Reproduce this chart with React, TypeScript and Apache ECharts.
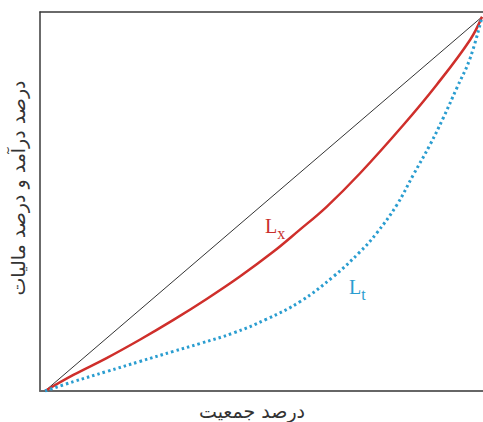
import React, { useEffect, useRef } from "react";
import * as echarts from "echarts";

// Lorenz-style curves (percent of population vs percent of income / tax)
const equalityX = [0, 100];
const equalityY = [0, 100];

const lxX = [0, 6.5, 14.1, 21.7, 29.4, 37.0, 44.6, 52.0, 58.0, 64.5, 72.1, 82.0, 89.6, 97.3, 100];
const lxY = [0, 4.3, 8.8, 13.7, 19.0, 24.6, 30.6, 37.0, 42.8, 49.3, 58.2, 71.1, 81.8, 93.9, 100];

const ltX = [0, 6.5, 14.1, 21.7, 29.4, 35.5, 43.1, 50.7, 58.4, 66.0, 72.1, 75.9, 80.5, 84.3, 88.1, 91.1, 94.2, 97.3, 100];
const ltY = [0, 2.5, 5.2, 7.9, 10.6, 12.7, 15.5, 19.2, 23.9, 30.6, 37.2, 42.2, 49.7, 57.8, 65.8, 72.9, 80.9, 89.0, 100];

const xName = "درصد جمعیت";
const yName = "درصد درآمد و درصد مالیات";

const pairs = (xs: number[], ys: number[]) => xs.map((x, i) => [x, ys[i]]);

export default function App() {
  const ref = useRef<HTMLDivElement>(null);
  useEffect(() => {
    if (!ref.current) return;
    const chart = echarts.init(ref.current, undefined, { renderer: "svg" });
    const persian = "'DejaVu Sans', 'Noto Sans', sans-serif";
    const serif = "'Liberation Serif', 'DejaVu Serif', serif";
    const hiddenAxis = {
      axisTick: { show: false },
      axisLabel: { show: false },
      splitLine: { show: false },
    };
    chart.setOption({
      animation: false,
      backgroundColor: "#ffffff",
      grid: { left: 40, top: 12, right: 0, bottom: 31 },
      xAxis: [
        {
          type: "value",
          min: -1.14,
          max: 100.23,
          position: "bottom",
          axisLine: { show: true, onZero: false, lineStyle: { color: "#666", width: 2 } },
          ...hiddenAxis,
        },
        {
          type: "value",
          min: -1.14,
          max: 100.23,
          position: "top",
          axisLine: { show: true, onZero: false, lineStyle: { color: "#3a3a3a", width: 1.5 } },
          ...hiddenAxis,
        },
      ],
      yAxis: {
        type: "value",
        min: 0,
        max: 101.3,
        position: "left",
        axisLine: { show: true, onZero: false, lineStyle: { color: "#3a3a3a", width: 1.5 } },
        ...hiddenAxis,
      },
      graphic: [
        {
          type: "text",
          x: 252,
          y: 411,
          style: {
            text: xName,
            fill: "#333",
            font: `19px ${persian}`,
            align: "center",
            verticalAlign: "middle",
          },
        },
        {
          type: "text",
          x: 18,
          y: 188,
          rotation: Math.PI / 2,
          style: {
            text: yName,
            fill: "#333",
            font: `19px ${persian}`,
            align: "center",
            verticalAlign: "middle",
          },
        },
        {
          type: "text",
          x: 265,
          y: 236,
          style: {
            text: "{a|L}{b|x}",
            verticalAlign: "bottom",
            rich: {
              a: { fontFamily: serif, fontSize: 20, fill: "#c9302c", verticalAlign: "bottom" },
              b: { fontFamily: serif, fontSize: 16, fill: "#c9302c", verticalAlign: "bottom", padding: [0, 0, -5, 0] },
            },
          },
        },
        {
          type: "text",
          x: 349,
          y: 297,
          style: {
            text: "{a|L}{b|t}",
            verticalAlign: "bottom",
            rich: {
              a: { fontFamily: serif, fontSize: 20, fill: "#2a9dd0", verticalAlign: "bottom" },
              b: { fontFamily: serif, fontSize: 16, fill: "#2a9dd0", verticalAlign: "bottom", padding: [0, 0, -5, 0] },
            },
          },
        },
      ],
      series: [
        {
          type: "line",
          data: pairs(equalityX, equalityY),
          showSymbol: false,
          lineStyle: { color: "#333", width: 1 },
          silent: true,
        },
        {
          type: "line",
          data: pairs(lxX, lxY),
          smooth: 0.4,
          showSymbol: false,
          lineStyle: { color: "#cf2f2b", width: 2.5 },
          silent: true,
        },
        {
          type: "line",
          data: pairs(ltX, ltY),
          smooth: 0.4,
          showSymbol: false,
          lineStyle: { color: "#2a9dd0", width: 3, type: [2.5, 3] },
          silent: true,
        },
      ],
    });
    return () => chart.dispose();
  }, []);
  return (
    <div
      ref={ref}
      style={{ position: "fixed", left: 0, top: 0, width: 483, height: 422 }}
    />
  );
}
